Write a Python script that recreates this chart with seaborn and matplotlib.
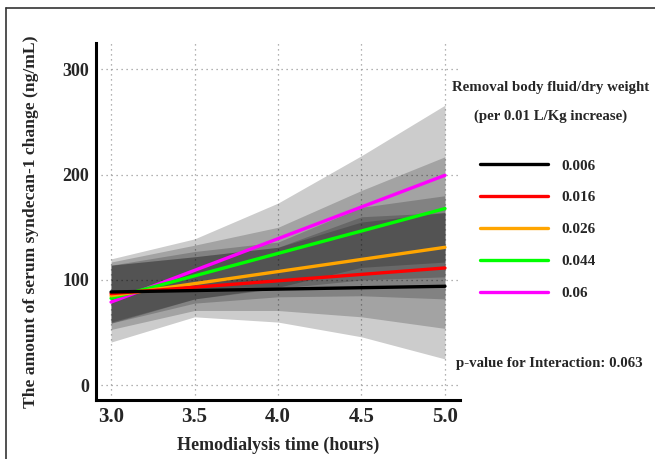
import numpy as np
import pandas as pd
import matplotlib
matplotlib.use("Agg")
import matplotlib.pyplot as plt
from matplotlib.lines import Line2D
import seaborn as sns

# ---- data ----
groups = ["0.006", "0.016", "0.026", "0.044", "0.06"]
colors = ["#000000", "#ff0000", "#ffa500", "#00ff00", "#ff00ff"]
line_x = [3.0, 5.0]
line_black = [88.6, 94.0]
line_red = [87.0, 111.4]
line_orange = [85.0, 131.0]
line_green = [82.6, 167.8]
line_magenta = [79.0, 199.4]

band_x = [3.0, 3.5, 4.0, 4.5, 5.0]
band_a_lo = [41, 65, 60, 46, 25]
band_a_hi = [120, 139, 173, 218, 266]
band_b_lo = [53, 71, 71, 65, 54]
band_b_hi = [117, 133, 150, 185, 217]
band_c_lo = [59, 78, 84, 85, 82]
band_c_hi = [114, 127, 136, 169, 180]
band_d_lo = [59, 82, 92, 100, 103]
band_d_hi = [114, 122, 131, 160, 164]
band_e_lo = [60, 82, 93, 112, 117]
band_e_hi = [114, 122, 131, 155, 164]

x_ticks = [3.0, 3.5, 4.0, 4.5, 5.0]
y_ticks = [0, 100, 200, 300]

sns.set_style("white")
plt.rcParams["font.family"] = ["Liberation Serif", "DejaVu Serif"]
plt.rcParams["font.weight"] = "bold"

fig = plt.figure(figsize=(6.55, 4.59), dpi=100)
ax = fig.add_axes([0.1466, 0.1285, 0.5557, 0.7778])

bands = [(band_a_lo, band_a_hi), (band_b_lo, band_b_hi), (band_c_lo, band_c_hi),
         (band_d_lo, band_d_hi), (band_e_lo, band_e_hi)]
for lo, hi in bands:
    ax.fill_between(band_x, lo, hi, color="black", alpha=0.2, linewidth=0, zorder=2)

lines = [line_black, line_red, line_orange, line_green, line_magenta]
df = pd.concat([pd.DataFrame({"x": line_x, "y": vals, "g": g}) for g, vals in zip(groups, lines)])
pal = dict(zip(groups, colors))
for g in reversed(groups):
    sns.lineplot(data=df[df.g == g], x="x", y="y", color=pal[g], linewidth=2.4,
                 ax=ax, legend=False, zorder=3)

ax.set_xlim(2.91, 5.09)
ax.set_ylim(-14, 325)
ax.set_xticks(x_ticks)
ax.set_xticklabels([f"{v:.1f}" for v in x_ticks])
ax.set_yticks(y_ticks)
ax.grid(True, linestyle=(0, (1, 3)), color="#999999", linewidth=0.9, zorder=1)
ax.set_axisbelow(True)
for s in ["top", "right"]:
    ax.spines[s].set_visible(False)
for s in ["left", "bottom"]:
    ax.spines[s].set_linewidth(2.2)
    ax.spines[s].set_color("black")
ax.tick_params(axis="both", length=3, width=1, color="#555555", pad=2)
ax.tick_params(axis="y", labelsize=13)
ax.tick_params(axis="x", labelsize=15)
for lab in ax.get_xticklabels() + ax.get_yticklabels():
    lab.set_fontweight("bold")
ax.set_xlabel("Hemodialysis time (hours)", fontsize=13, fontweight="bold", labelpad=7)
ax.set_ylabel("The amount of serum syndecan-1 change (ng/mL)", fontsize=12.6,
              fontweight="bold", labelpad=17)

# legend
handles = [Line2D([0], [0], color=c, linewidth=2.4) for c in colors]
fig.legend(handles, groups, loc="upper left", bbox_to_anchor=(0.733, 0.654),
           frameon=False, handlelength=4.45, handletextpad=0.9,
           labelspacing=1.19, borderpad=0, borderaxespad=0, prop={"weight": "bold", "size": 11})
fig.text(0.84, 1 - 88 / 459, "Removal body fluid/dry weight", ha="center", va="center",
         fontsize=10.7, fontweight="bold")
fig.text(0.84, 1 - 116 / 459, "(per 0.01 L/Kg increase)", ha="center", va="center",
         fontsize=10.7, fontweight="bold")
fig.text(0.838, 1 - 363 / 459, "p-value for Interaction: 0.063", ha="center", va="center",
         fontsize=10.75, fontweight="bold")

# outer frame (top and left edges)
fig.add_artist(Line2D([6 / 655, 1.0], [1 - 8 / 459, 1 - 8 / 459], color="#333333", linewidth=1.2))
fig.add_artist(Line2D([6 / 655, 6 / 655], [0, 1 - 8 / 459], color="#333333", linewidth=1.2))

fig.savefig("out.png", dpi=100)
